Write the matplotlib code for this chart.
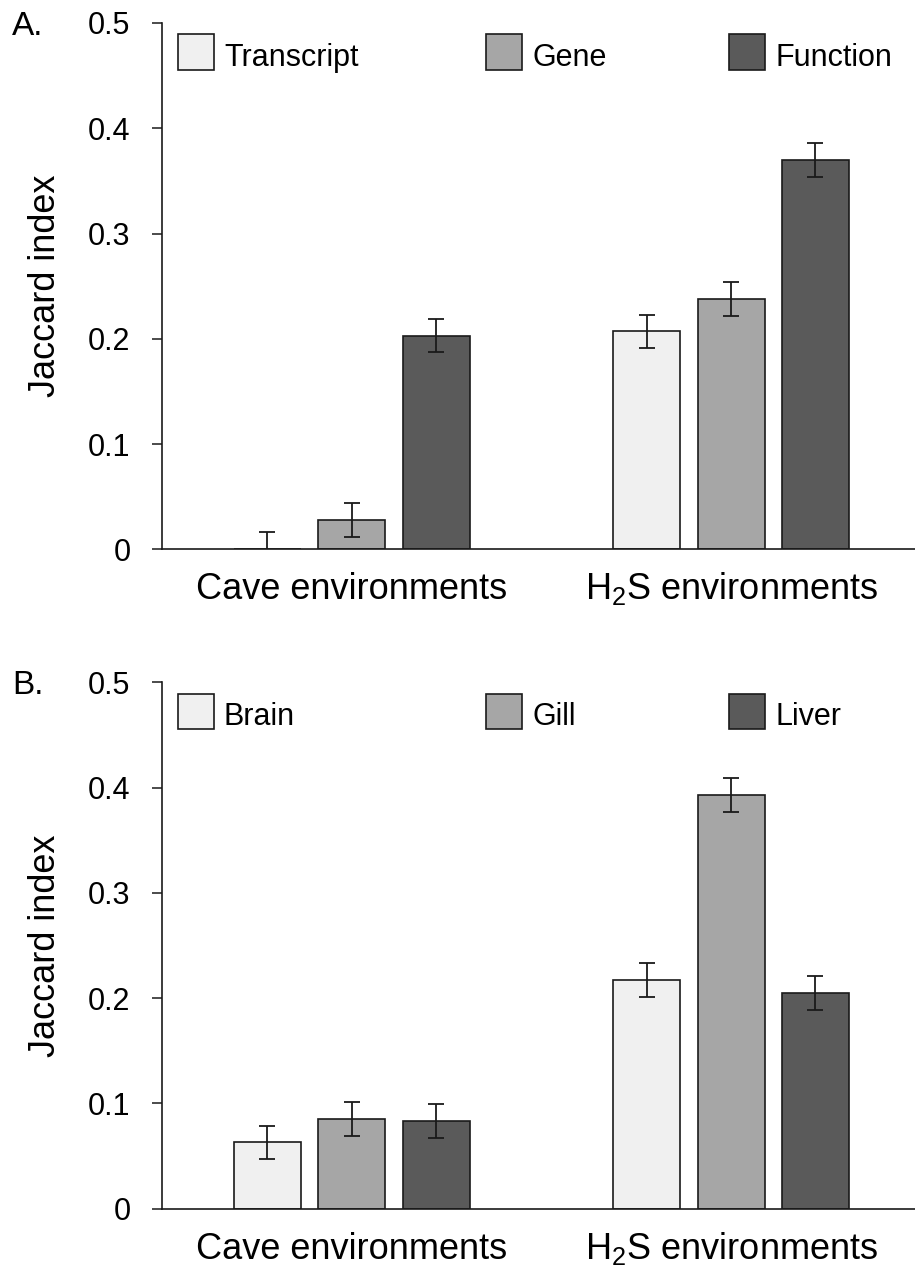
# Jaccard index of shared changes across cave and H2S environments
# Panel A: by level (transcript / gene / function), panel B: by tissue

import matplotlib
matplotlib.use('Agg')
import matplotlib.pyplot as plt
from matplotlib.patches import Rectangle
from matplotlib.transforms import offset_copy
import numpy as np

plt.rcParams['font.family'] = ['Liberation Sans', 'DejaVu Sans']
plt.rcParams['mathtext.fontset'] = 'custom'
plt.rcParams['mathtext.rm'] = 'Liberation Sans'

groups = ['Cave environments', r'H$_\mathregular{2}$S environments']

# panel A
level_names = ['Transcript', 'Gene', 'Function']
level_cave = [0.0, 0.028, 0.203]
level_h2s = [0.207, 0.238, 0.370]
level_cave_err = [0.016, 0.016, 0.016]
level_h2s_err = [0.016, 0.016, 0.016]

# panel B
tissue_names = ['Brain', 'Gill', 'Liver']
tissue_cave = [0.063, 0.085, 0.083]
tissue_h2s = [0.217, 0.393, 0.205]
tissue_cave_err = [0.016, 0.016, 0.016]
tissue_h2s_err = [0.016, 0.016, 0.016]

y_ticks = [0, 0.1, 0.2, 0.3, 0.4, 0.5]
y_ticklabels = ['0', '0.1', '0.2', '0.3', '0.4', '0.5']

colors = ['#f0f0f0', '#a6a6a6', '#5a5a5a']
edge = '#1a1a1a'

W, H = 915, 1268
fig = plt.figure(figsize=(W / 100, H / 100), dpi=100)

group_x = np.array([0.0, 4.5])
bar_w = 0.795


def draw_panel(ax, letter, names, cave, h2s, cave_err, h2s_err):
    for i in range(3):
        xs = group_x + (i - 1)
        ax.bar(xs, [cave[i], h2s[i]], width=bar_w, color=colors[i],
               edgecolor=edge, linewidth=1.2,
               yerr=[cave_err[i], h2s_err[i]], capsize=5.8,
               error_kw=dict(elinewidth=1.3, capthick=1.3, ecolor=edge))

    ax.set_xlim(-2.25, 6.68)
    ax.set_ylim(0, 0.5)
    ax.set_yticks(y_ticks)
    ax.set_yticklabels(y_ticklabels)
    ax.tick_params(axis='y', direction='out', length=7.2, width=1.1,
                   pad=15.5, labelsize=22, color=edge)
    ax.set_xticks([])
    for s in ['top', 'right']:
        ax.spines[s].set_visible(False)
    for s in ['left', 'bottom']:
        ax.spines[s].set_linewidth(1.2)
        ax.spines[s].set_color(edge)

    ax.set_ylabel('Jaccard index', fontsize=26, va='baseline')
    ax.yaxis.set_label_coords(-0.1421, 0.5)

    # group names under the axis
    trans = offset_copy(ax.get_xaxis_transform(), fig=fig, x=0, y=-50, units='dots')
    for gx, name in zip(group_x, groups):
        ax.text(gx, 0, name, transform=trans, ha='center', va='baseline', fontsize=26)

    # key along the top of the axes
    ax_h = ax.get_position().height * H
    ax_w = ax.get_position().width * W
    key_x = [16, 324, 567]
    for kx, name, c in zip(key_x, names, colors):
        ax.add_patch(Rectangle((kx / ax_w, 1 - 47 / ax_h), 36 / ax_w, 35.5 / ax_h,
                               transform=ax.transAxes, facecolor=c, edgecolor=edge,
                               linewidth=1.2, clip_on=False))
        ax.text((kx + 46) / ax_w, 1 - 42.7 / ax_h, name, transform=ax.transAxes,
                fontsize=22, va='baseline', ha='left')

    pos = ax.get_position()
    fig.text(12 / W, pos.y1 - 12 / H, letter, fontsize=24, va='baseline', ha='left')


ax_a = fig.add_axes([162 / W, 1 - 549.3 / H, (W - 162) / W, 526.3 / H])
draw_panel(ax_a, 'A.', level_names, level_cave, level_h2s, level_cave_err, level_h2s_err)

ax_b = fig.add_axes([162 / W, 1 - 1208.7 / H, (W - 162) / W, 526.4 / H])
draw_panel(ax_b, 'B.', tissue_names, tissue_cave, tissue_h2s, tissue_cave_err, tissue_h2s_err)

fig.savefig('out.png', dpi=100)
